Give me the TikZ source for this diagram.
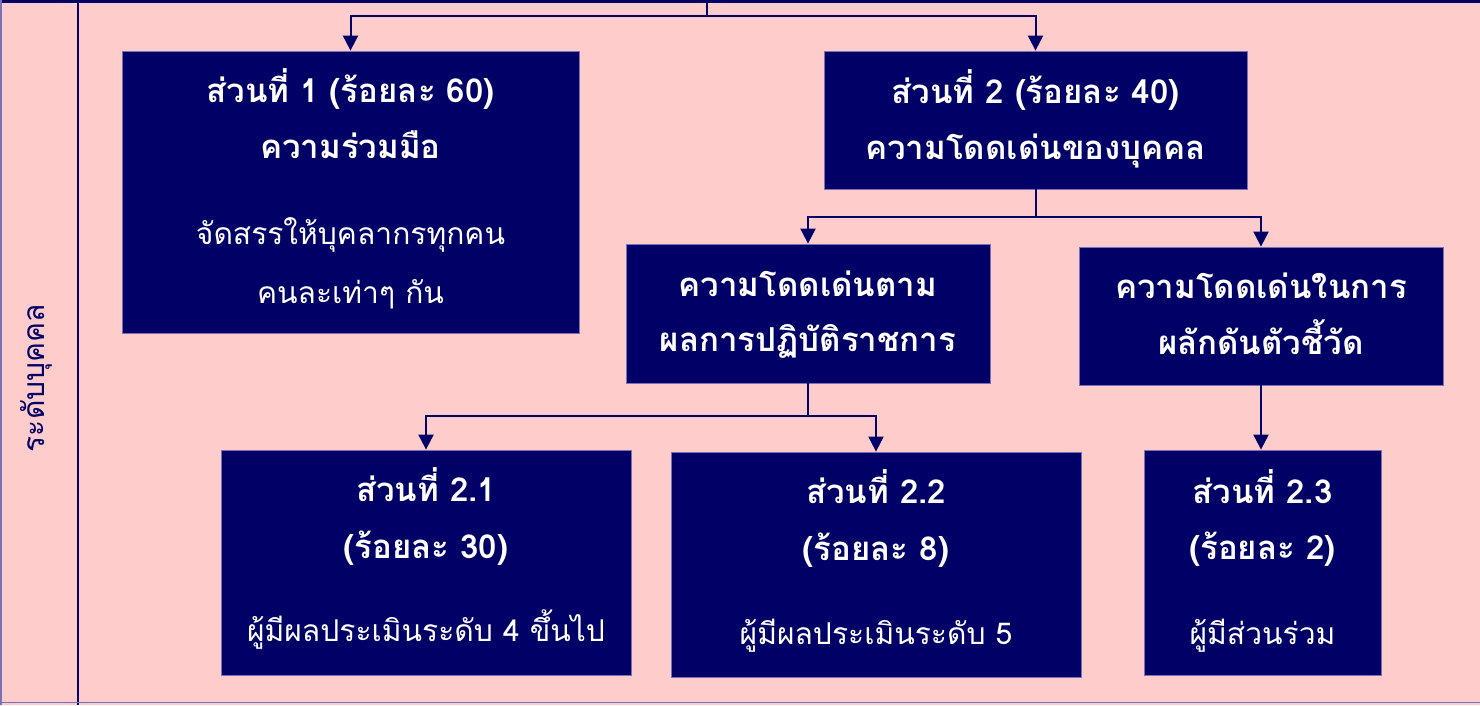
\documentclass[tikz,border=0pt]{standalone}
\usepackage{fontspec}
\newfontfamily\thai[Script=Thai]{Loma}
\usetikzlibrary{arrows.meta}
\definecolor{navy}{HTML}{000066}
\definecolor{bg}{HTML}{FFCCCC}
\definecolor{edgec}{HTML}{7A70B8}
\tikzset{
  box/.style={fill=navy, draw=edgec, line width=0.8pt, inner sep=0pt},
  hd/.style={text=white, anchor=base, inner sep=0pt, font=\thai\bfseries\fontsize{33}{36}\selectfont},
  tx/.style={text=white, anchor=base, inner sep=0pt, font=\thai\fontsize{30}{33}\selectfont},
  conn/.style={draw=navy, line width=2pt, -{Triangle[length=15pt,width=15pt]}},
  plain/.style={draw=navy, line width=2pt}
}
\begin{document}
\begin{tikzpicture}[x=1pt,y=-1pt]
\fill[bg] (0,0) rectangle (1480,705);
\useasboundingbox (0,0) rectangle (1480,705);
% frame
\draw[navy, line width=3.5pt] (0,1.5) -- (1480,1.5);
\draw[edgec, line width=2pt] (1,0) -- (1,705);
\draw[navy, line width=2pt] (78,0) -- (78,705);
\draw[edgec, line width=1.5pt] (0,702.5) -- (1480,702.5);
% lane label
\node[rotate=90, text=navy, inner sep=0pt, font=\thai\fontsize{30}{33}\selectfont] (lane) at (36,378) {ระดับบุคคล};
% boxes
\node[box, minimum width=457pt, minimum height=282pt] (b1) at (350.5,192) {};
\node[box, minimum width=423pt, minimum height=138pt] (b2) at (1035.5,120) {};
\node[box, minimum width=364pt, minimum height=139pt] (b3) at (808,313.5) {};
\node[box, minimum width=364pt, minimum height=138pt] (b4) at (1261,316) {};
\node[box, minimum width=410pt, minimum height=225pt] (b5) at (426,562.5) {};
\node[box, minimum width=410pt, minimum height=225pt] (b6) at (876,564.5) {};
\node[box, minimum width=237pt, minimum height=225pt] (b7) at (1262.5,562.5) {};
% texts
\node[hd] (t11) at (350.5,102) {ส่วนที่ 1 (ร้อยละ 60)};
\node[hd] (t12) at (350.5,158) {ความร่วมมือ};
\node[tx] (t13) at (350.5,244) {จัดสรรให้บุคลากรทุกคน};
\node[tx] (t14) at (350.5,303) {คนละเท่าๆ กัน};
\node[hd] (t21) at (1035.5,103) {ส่วนที่ 2 (ร้อยละ 40)};
\node[hd] (t22) at (1035.5,159) {ความโดดเด่นของบุคคล};
\node[hd] (t31) at (808,296) {ความโดดเด่นตาม};
\node[hd] (t32) at (808,351) {ผลการปฏิบัติราชการ};
\node[hd] (t41) at (1261,298) {ความโดดเด่นในการ};
\node[hd] (t42) at (1261,354) {ผลักดันตัวชี้วัด};
\node[hd] (t51) at (426,501) {ส่วนที่ 2.1};
\node[hd] (t52) at (426,558) {(ร้อยละ 30)};
\node[tx] (t53) at (426,641) {ผู้มีผลประเมินระดับ 4 ขึ้นไป};
\node[hd] (t61) at (876,503) {ส่วนที่ 2.2};
\node[hd] (t62) at (876,560) {(ร้อยละ 8)};
\node[tx] (t63) at (876,644) {ผู้มีผลประเมินระดับ 5};
\node[hd] (t71) at (1262.5,503) {ส่วนที่ 2.3};
\node[hd] (t72) at (1262.5,559) {(ร้อยละ 2)};
\node[tx] (t73) at (1262.5,644) {ผู้มีส่วนร่วม};
% connectors
\coordinate (top) at (707,0);
\coordinate (j0) at (707,16);
\coordinate (j1) at (1036,217);
\coordinate (j2) at (808,416);
\draw[plain] (top) -- (j0);
\draw[conn] (j0) -| (b1.north);
\draw[conn] (j0) -| (b2.north);
\draw[plain] (b2.south) -- (b2.south |- j1);
\draw[conn] (b2.south |- j1) -| (b3.north);
\draw[conn] (b2.south |- j1) -| (b4.north);
\draw[plain] (b3.south) -- (j2);
\draw[conn] (j2) -| (b5.north);
\draw[conn] (j2) -| (b6.north);
\draw[conn] (b4.south) -- (b4.south |- b7.north);
\end{tikzpicture}
\end{document}
